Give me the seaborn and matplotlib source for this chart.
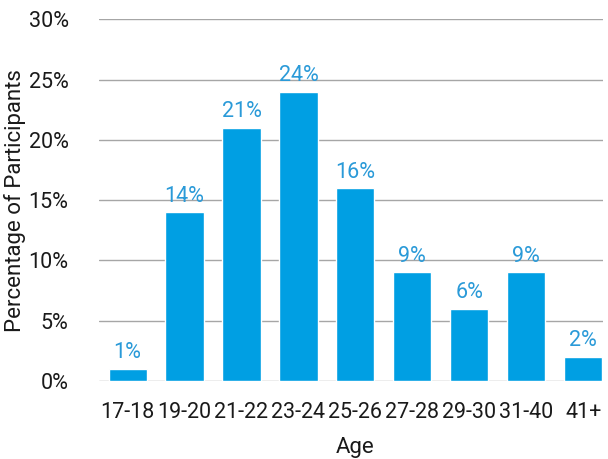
import seaborn as sns
import matplotlib.pyplot as plt
import pandas as pd

ages = ["17-18", "19-20", "21-22", "23-24", "25-26", "27-28", "29-30", "31-40", "41+"]
pct = [1, 14, 21, 24, 16, 9, 6, 9, 2]

df = pd.DataFrame({"Age": ages, "pct": pct})

sns.set_style("white")
plt.rcParams['font.family'] = ['Roboto', 'DejaVu Sans']

fig, ax = plt.subplots(figsize=(6.08, 4.59), dpi=100)
fig.subplots_adjust(left=0.163, right=0.992, top=0.958, bottom=0.17)

sns.barplot(data=df, x="Age", y="pct", color="#009fe3", saturation=1, width=0.67, ax=ax, zorder=3)

for i, v in enumerate(pct):
    ax.text(i, v + 0.45, f"{v}%", ha="center", va="bottom", color="#2a9ad8", fontsize=15.5)

ax.set_ylim(0, 30)
ax.set_xlim(-0.5, 8.35)
ax.set_yticks(range(0, 31, 5))
ax.set_yticklabels([f"{t}%" for t in range(0, 31, 5)])
ax.yaxis.grid(True, color="#a6a6a6", lw=1, zorder=0)
for s in ax.spines.values():
    s.set_visible(False)
ax.tick_params(axis="both", labelsize=15.5, length=0, colors="#1a1a1a")
ax.tick_params(axis="y", pad=22)
ax.tick_params(axis="x", pad=15)
ax.set_xlabel("Age", fontsize=16, color="#1a1a1a")
ax.set_ylabel("Percentage of Participants", fontsize=16, color="#1a1a1a")
ax.yaxis.set_label_coords(-0.145, 0.5)
ax.xaxis.set_label_coords(0.507, -0.155)

fig.savefig("out.png", dpi=100)
